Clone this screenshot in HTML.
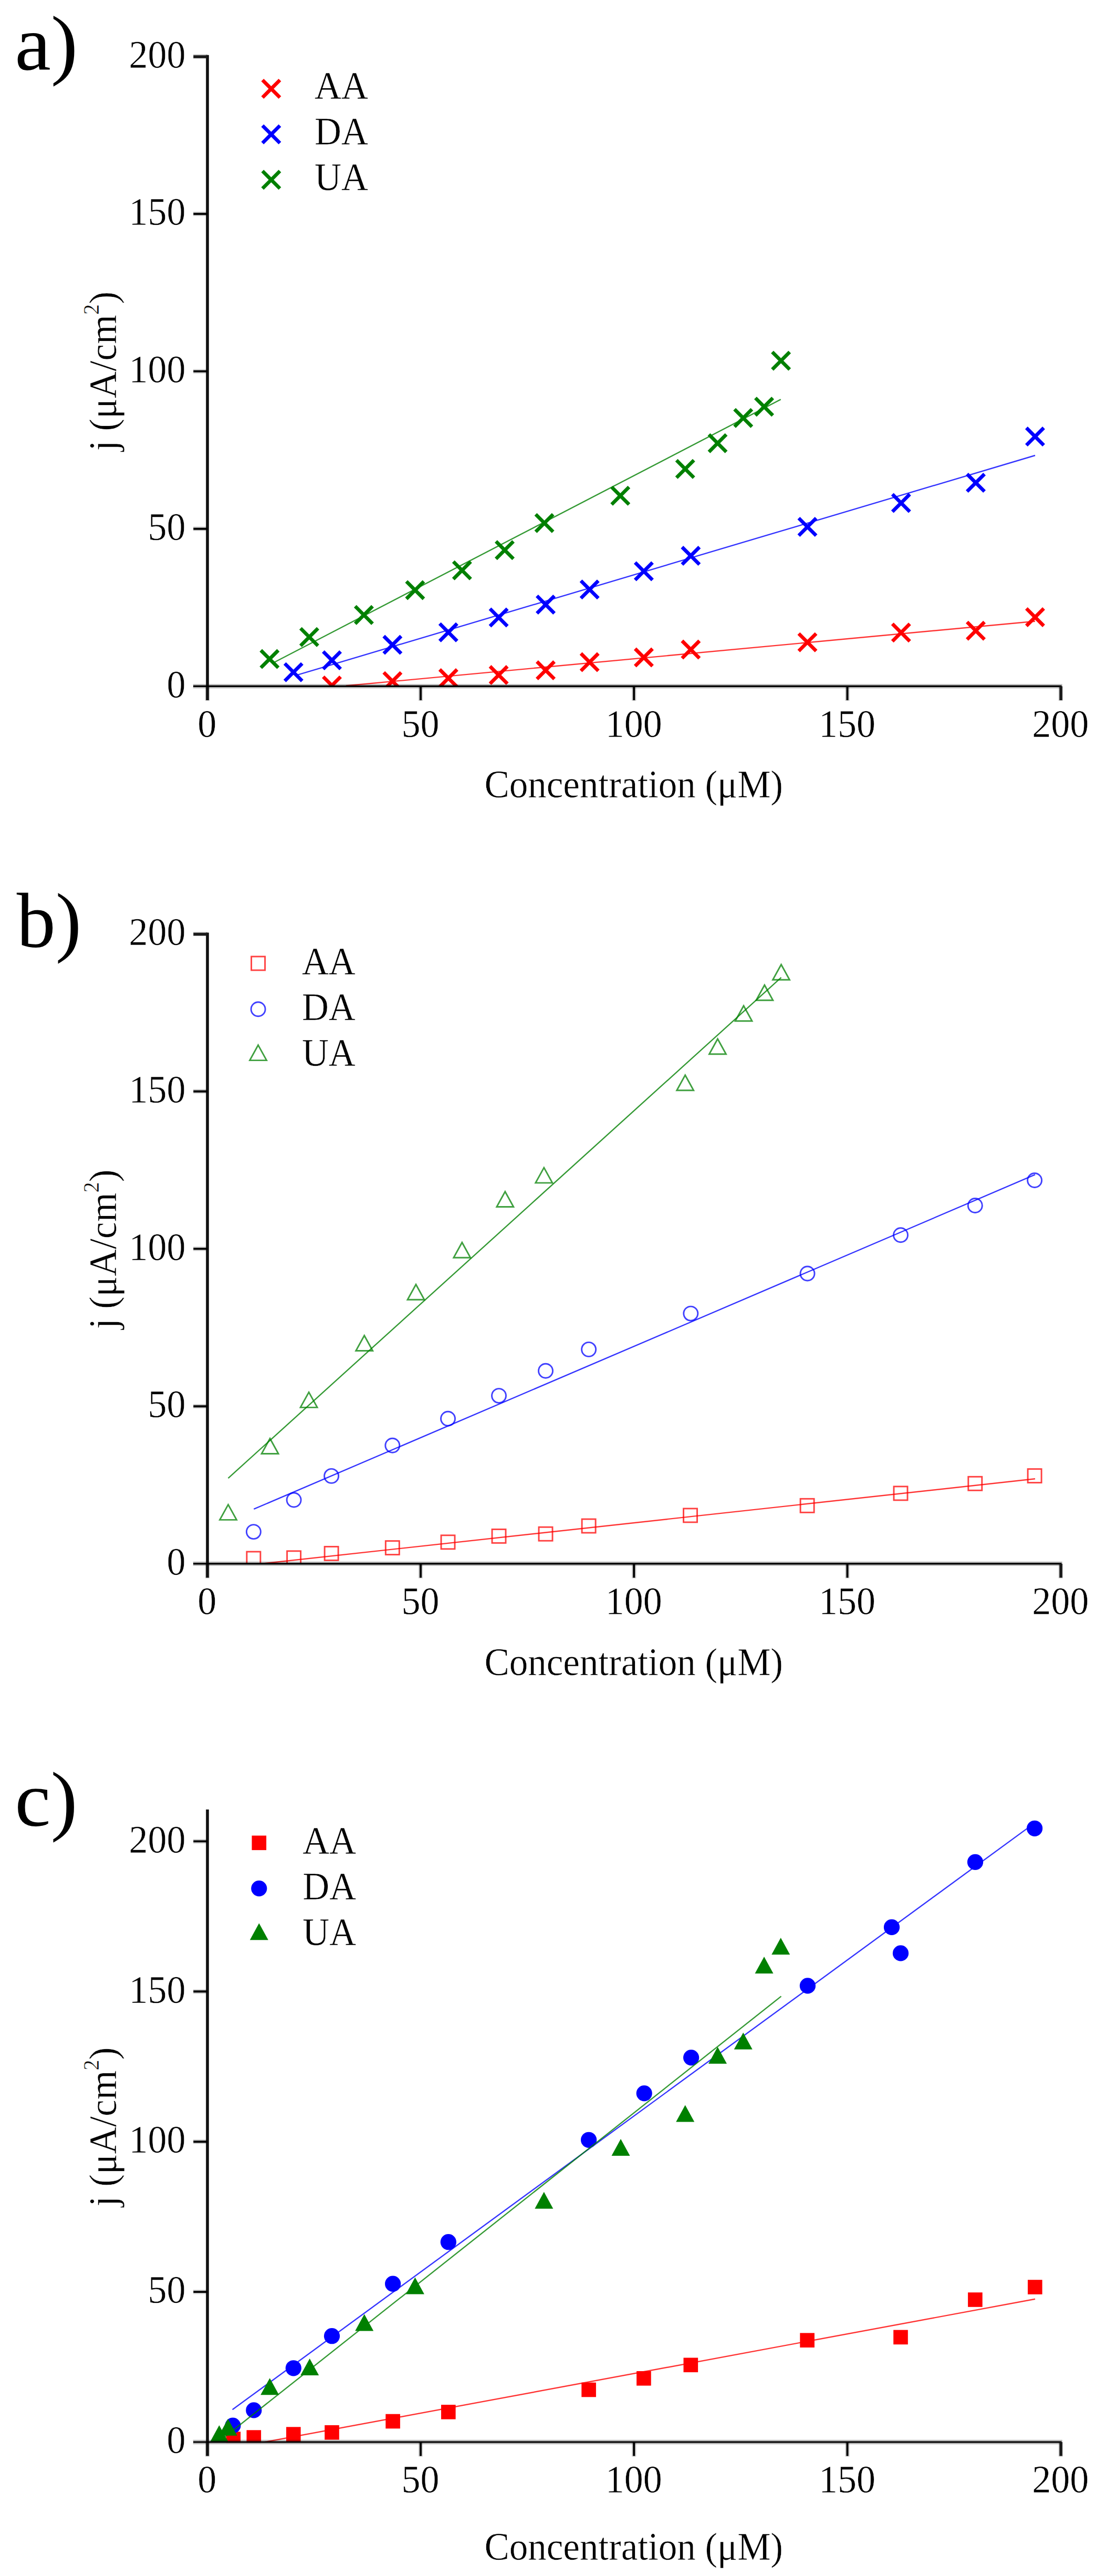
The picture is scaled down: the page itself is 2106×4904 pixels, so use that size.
<!DOCTYPE html>
<html lang="en"><head><meta charset="utf-8"><title>Calibration plots</title>
<style>html,body{margin:0;padding:0;background:#fff}svg{display:block}</style></head>
<body>
<svg width="2106" height="4904" viewBox="0 0 2106 4904" font-family="'Liberation Serif', serif" font-size="74" fill="#000">
<style>text{stroke:#fff;stroke-width:0.5px}</style>
<rect width="2106" height="4904" fill="#fff"/>
<clipPath id="clipa"><rect x="0" y="47.5" width="2106" height="1260.1"/></clipPath>
<g clip-path="url(#clipa)">
<path d="M615.4 1288.3L648.6 1321.5M615.4 1321.5L648.6 1288.3" stroke="#ff0000" stroke-width="6.8" fill="none"/>
<path d="M730.7 1280.2L763.9 1313.4M730.7 1313.4L763.9 1280.2" stroke="#ff0000" stroke-width="6.8" fill="none"/>
<path d="M837.2 1274.5L870.4 1307.7M837.2 1307.7L870.4 1274.5" stroke="#ff0000" stroke-width="6.8" fill="none"/>
<path d="M933.0 1268.5L966.2 1301.7M933.0 1301.7L966.2 1268.5" stroke="#ff0000" stroke-width="6.8" fill="none"/>
<path d="M1022.4 1259.5L1055.6 1292.7M1022.4 1292.7L1055.6 1259.5" stroke="#ff0000" stroke-width="6.8" fill="none"/>
<path d="M1106.1 1244.0L1139.3 1277.2M1106.1 1277.2L1139.3 1244.0" stroke="#ff0000" stroke-width="6.8" fill="none"/>
<path d="M1209.3 1235.0L1242.5 1268.2M1209.3 1268.2L1242.5 1235.0" stroke="#ff0000" stroke-width="6.8" fill="none"/>
<path d="M1298.7 1220.0L1331.9 1253.2M1298.7 1253.2L1331.9 1220.0" stroke="#ff0000" stroke-width="6.8" fill="none"/>
<path d="M1520.9 1206.2L1554.1 1239.4M1520.9 1239.4L1554.1 1206.2" stroke="#ff0000" stroke-width="6.8" fill="none"/>
<path d="M1699.2 1187.7L1732.4 1220.9M1699.2 1220.9L1732.4 1187.7" stroke="#ff0000" stroke-width="6.8" fill="none"/>
<path d="M1841.4 1184.1L1874.6 1217.3M1841.4 1217.3L1874.6 1184.1" stroke="#ff0000" stroke-width="6.8" fill="none"/>
<path d="M1954.4 1158.3L1987.5 1191.5M1954.4 1191.5L1987.5 1158.3" stroke="#ff0000" stroke-width="6.8" fill="none"/>
<line x1="658.8" y1="1305.5" x2="1971.0" y2="1182.7" stroke="#ff0000" stroke-opacity="0.8" stroke-width="2.4"/>
<path d="M542.2 1263.1L575.4 1296.3M542.2 1296.3L575.4 1263.1" stroke="#0000ff" stroke-width="6.8" fill="none"/>
<path d="M615.4 1240.4L648.6 1273.6M615.4 1273.6L648.6 1240.4" stroke="#0000ff" stroke-width="6.8" fill="none"/>
<path d="M730.7 1211.0L763.9 1244.2M730.7 1244.2L763.9 1211.0" stroke="#0000ff" stroke-width="6.8" fill="none"/>
<path d="M837.2 1187.1L870.4 1220.3M837.2 1220.3L870.4 1187.1" stroke="#0000ff" stroke-width="6.8" fill="none"/>
<path d="M933.0 1158.9L966.2 1192.1M933.0 1192.1L966.2 1158.9" stroke="#0000ff" stroke-width="6.8" fill="none"/>
<path d="M1022.4 1134.4L1055.6 1167.6M1022.4 1167.6L1055.6 1134.4" stroke="#0000ff" stroke-width="6.8" fill="none"/>
<path d="M1106.1 1105.6L1139.3 1138.8M1106.1 1138.8L1139.3 1105.6" stroke="#0000ff" stroke-width="6.8" fill="none"/>
<path d="M1209.3 1070.9L1242.5 1104.1M1209.3 1104.1L1242.5 1070.9" stroke="#0000ff" stroke-width="6.8" fill="none"/>
<path d="M1298.7 1041.5L1331.9 1074.7M1298.7 1074.7L1331.9 1041.5" stroke="#0000ff" stroke-width="6.8" fill="none"/>
<path d="M1520.9 986.4L1554.1 1019.6M1520.9 1019.6L1554.1 986.4" stroke="#0000ff" stroke-width="6.8" fill="none"/>
<path d="M1699.2 940.9L1732.4 974.1M1699.2 974.1L1732.4 940.9" stroke="#0000ff" stroke-width="6.8" fill="none"/>
<path d="M1841.4 902.5L1874.6 935.7M1841.4 935.7L1874.6 902.5" stroke="#0000ff" stroke-width="6.8" fill="none"/>
<path d="M1954.4 814.5L1987.5 847.7M1954.4 847.7L1987.5 814.5" stroke="#0000ff" stroke-width="6.8" fill="none"/>
<line x1="563.7" y1="1285.7" x2="1971.0" y2="867.0" stroke="#0000ff" stroke-opacity="0.8" stroke-width="2.4"/>
<path d="M496.7 1238.0L529.9 1271.2M496.7 1271.2L529.9 1238.0" stroke="#008000" stroke-width="6.8" fill="none"/>
<path d="M572.3 1196.1L605.5 1229.3M572.3 1229.3L605.5 1196.1" stroke="#008000" stroke-width="6.8" fill="none"/>
<path d="M676.3 1154.1L709.5 1187.3M676.3 1187.3L709.5 1154.1" stroke="#008000" stroke-width="6.8" fill="none"/>
<path d="M773.8 1106.8L807.0 1140.0M773.8 1140.0L807.0 1106.8" stroke="#008000" stroke-width="6.8" fill="none"/>
<path d="M863.2 1069.1L896.4 1102.3M863.2 1102.3L896.4 1069.1" stroke="#008000" stroke-width="6.8" fill="none"/>
<path d="M944.4 1030.7L977.6 1063.9M944.4 1063.9L977.6 1030.7" stroke="#008000" stroke-width="6.8" fill="none"/>
<path d="M1020.0 979.2L1053.2 1012.4M1020.0 1012.4L1053.2 979.2" stroke="#008000" stroke-width="6.8" fill="none"/>
<path d="M1164.6 927.1L1197.8 960.3M1164.6 960.3L1197.8 927.1" stroke="#008000" stroke-width="6.8" fill="none"/>
<path d="M1288.1 876.2L1321.3 909.4M1288.1 909.4L1321.3 876.2" stroke="#008000" stroke-width="6.8" fill="none"/>
<path d="M1349.9 827.1L1383.0 860.3M1349.9 860.3L1383.0 827.1" stroke="#008000" stroke-width="6.8" fill="none"/>
<path d="M1398.6 779.2L1431.8 812.4M1398.6 812.4L1431.8 779.2" stroke="#008000" stroke-width="6.8" fill="none"/>
<path d="M1438.4 757.6L1471.6 790.8M1438.4 790.8L1471.6 757.6" stroke="#008000" stroke-width="6.8" fill="none"/>
<path d="M1470.5 670.1L1503.7 703.3M1470.5 703.3L1503.7 670.1" stroke="#008000" stroke-width="6.8" fill="none"/>
<line x1="521.5" y1="1261.2" x2="1486.7" y2="760.4" stroke="#008000" stroke-opacity="0.8" stroke-width="2.4"/>
</g>
<g fill="none" stroke="#000">
<path d="M367.7 1306.4H2022.7" stroke-width="8.4" stroke-opacity="0.26"/>
<path d="M801.0 1306.4v27.5M395.0 1006.7h-27M1207.2 1306.4v27.5M395.0 706.9h-27M1613.5 1306.4v27.5M395.0 407.2h-27M2019.7 1306.4v27.5M395.0 107.4h-27M395.0 1306.4v27.5" stroke-width="8.2" stroke-opacity="0.2"/>
<path d="M395.0 104.8V1332.9" stroke-width="5.6" stroke="#111"/>
<path d="M368.0 1306.4H2021.4" stroke-width="3.2"/>
<path d="M801.0 1306.4v26.5M395.0 1006.7h-26.7M1207.2 1306.4v26.5M395.0 706.9h-26.7M1613.5 1306.4v26.5M395.0 407.2h-26.7" stroke-width="3.9"/>
<path d="M2020.1 1306.4v26.5M395.0 108.0h-26.7" stroke-width="5.5" stroke="#1a1a1a"/>
</g>
<text x="394.2" y="1402.6" text-anchor="middle" textLength="36" lengthAdjust="spacingAndGlyphs">0</text>
<text x="353.5" y="1327.6" text-anchor="end" textLength="36" lengthAdjust="spacingAndGlyphs">0</text>
<text x="800.5" y="1402.6" text-anchor="middle" textLength="72" lengthAdjust="spacingAndGlyphs">50</text>
<text x="353.5" y="1027.9" text-anchor="end" textLength="72" lengthAdjust="spacingAndGlyphs">50</text>
<text x="1206.7" y="1402.6" text-anchor="middle" textLength="108" lengthAdjust="spacingAndGlyphs">100</text>
<text x="353.5" y="728.1" text-anchor="end" textLength="108" lengthAdjust="spacingAndGlyphs">100</text>
<text x="1613.0" y="1402.6" text-anchor="middle" textLength="108" lengthAdjust="spacingAndGlyphs">150</text>
<text x="353.5" y="428.4" text-anchor="end" textLength="108" lengthAdjust="spacingAndGlyphs">150</text>
<text x="2019.2" y="1402.6" text-anchor="middle" textLength="108" lengthAdjust="spacingAndGlyphs">200</text>
<text x="353.5" y="128.6" text-anchor="end" textLength="108" lengthAdjust="spacingAndGlyphs">200</text>
<text x="1206.7" y="1518.0" text-anchor="middle" textLength="568.5" lengthAdjust="spacingAndGlyphs">Concentration (μM)</text>
<text transform="translate(221 858.5) rotate(-90)" textLength="303.5" lengthAdjust="spacingAndGlyphs">j (μA/cm<tspan font-size="42" dy="-33">2</tspan><tspan dy="33">)</tspan></text>
<text x="28.2" y="133.0" font-size="148" style="stroke:none" textLength="120" lengthAdjust="spacingAndGlyphs">a)</text>
<path d="M499.8 152.4L533.0 185.6M499.8 185.6L533.0 152.4" stroke="#ff0000" stroke-width="6.8" fill="none"/>
<text x="599.0" y="188.3" font-size="73" textLength="101.8" lengthAdjust="spacingAndGlyphs">AA</text>
<path d="M499.8 239.1L533.0 272.3M499.8 272.3L533.0 239.1" stroke="#0000ff" stroke-width="6.8" fill="none"/>
<text x="599.0" y="275.0" font-size="73" textLength="101.8" lengthAdjust="spacingAndGlyphs">DA</text>
<path d="M499.8 325.7L533.0 358.9M499.8 358.9L533.0 325.7" stroke="#008000" stroke-width="6.8" fill="none"/>
<text x="599.0" y="361.6" font-size="73" textLength="101.8" lengthAdjust="spacingAndGlyphs">UA</text>
<clipPath id="clipb"><rect x="0" y="1718.2" width="2106" height="1259.9"/></clipPath>
<g clip-path="url(#clipb)">
<rect x="469.9" y="2954.0" width="26" height="26" stroke="#ff0000" stroke-opacity="0.75" stroke-width="2.9" fill="none"/>
<rect x="546.6" y="2952.8" width="26" height="26" stroke="#ff0000" stroke-opacity="0.75" stroke-width="2.9" fill="none"/>
<rect x="618.1" y="2944.4" width="26" height="26" stroke="#ff0000" stroke-opacity="0.75" stroke-width="2.9" fill="none"/>
<rect x="734.3" y="2933.6" width="26" height="26" stroke="#ff0000" stroke-opacity="0.75" stroke-width="2.9" fill="none"/>
<rect x="840.0" y="2922.8" width="26" height="26" stroke="#ff0000" stroke-opacity="0.75" stroke-width="2.9" fill="none"/>
<rect x="937.0" y="2911.4" width="26" height="26" stroke="#ff0000" stroke-opacity="0.75" stroke-width="2.9" fill="none"/>
<rect x="1026.0" y="2907.2" width="26" height="26" stroke="#ff0000" stroke-opacity="0.75" stroke-width="2.9" fill="none"/>
<rect x="1108.1" y="2892.0" width="26" height="26" stroke="#ff0000" stroke-opacity="0.75" stroke-width="2.9" fill="none"/>
<rect x="1301.5" y="2871.9" width="26" height="26" stroke="#ff0000" stroke-opacity="0.75" stroke-width="2.9" fill="none"/>
<rect x="1524.1" y="2853.3" width="26" height="26" stroke="#ff0000" stroke-opacity="0.75" stroke-width="2.9" fill="none"/>
<rect x="1702.0" y="2829.9" width="26" height="26" stroke="#ff0000" stroke-opacity="0.75" stroke-width="2.9" fill="none"/>
<rect x="1843.8" y="2811.3" width="26" height="26" stroke="#ff0000" stroke-opacity="0.75" stroke-width="2.9" fill="none"/>
<rect x="1957.1" y="2796.6" width="26" height="26" stroke="#ff0000" stroke-opacity="0.75" stroke-width="2.9" fill="none"/>
<line x1="483.3" y1="2978.4" x2="1971.0" y2="2815.3" stroke="#ff0000" stroke-opacity="0.8" stroke-width="2.4"/>
<circle cx="482.9" cy="2916.1" r="13.5" stroke="#0000ff" stroke-opacity="0.75" stroke-width="2.9" fill="none"/>
<circle cx="559.6" cy="2855.5" r="13.5" stroke="#0000ff" stroke-opacity="0.75" stroke-width="2.9" fill="none"/>
<circle cx="631.1" cy="2809.9" r="13.5" stroke="#0000ff" stroke-opacity="0.75" stroke-width="2.9" fill="none"/>
<circle cx="747.3" cy="2751.8" r="13.5" stroke="#0000ff" stroke-opacity="0.75" stroke-width="2.9" fill="none"/>
<circle cx="853.0" cy="2700.8" r="13.5" stroke="#0000ff" stroke-opacity="0.75" stroke-width="2.9" fill="none"/>
<circle cx="950.0" cy="2657.1" r="13.5" stroke="#0000ff" stroke-opacity="0.75" stroke-width="2.9" fill="none"/>
<circle cx="1039.0" cy="2609.7" r="13.5" stroke="#0000ff" stroke-opacity="0.75" stroke-width="2.9" fill="none"/>
<circle cx="1121.1" cy="2568.9" r="13.5" stroke="#0000ff" stroke-opacity="0.75" stroke-width="2.9" fill="none"/>
<circle cx="1315.3" cy="2500.6" r="13.5" stroke="#0000ff" stroke-opacity="0.75" stroke-width="2.9" fill="none"/>
<circle cx="1537.5" cy="2424.5" r="13.5" stroke="#0000ff" stroke-opacity="0.75" stroke-width="2.9" fill="none"/>
<circle cx="1715.0" cy="2351.3" r="13.5" stroke="#0000ff" stroke-opacity="0.75" stroke-width="2.9" fill="none"/>
<circle cx="1856.8" cy="2295.0" r="13.5" stroke="#0000ff" stroke-opacity="0.75" stroke-width="2.9" fill="none"/>
<circle cx="1970.1" cy="2247.0" r="13.5" stroke="#0000ff" stroke-opacity="0.75" stroke-width="2.9" fill="none"/>
<line x1="483.3" y1="2872.9" x2="1971.0" y2="2236.2" stroke="#0000ff" stroke-opacity="0.8" stroke-width="2.4"/>
<path d="M434.5 2864.4L450.5 2893.4L418.5 2893.4Z" stroke="#008000" stroke-opacity="0.75" stroke-width="2.9" fill="none"/>
<path d="M514.1 2738.5L530.1 2767.5L498.1 2767.5Z" stroke="#008000" stroke-opacity="0.75" stroke-width="2.9" fill="none"/>
<path d="M588.1 2650.4L604.1 2679.4L572.1 2679.4Z" stroke="#008000" stroke-opacity="0.75" stroke-width="2.9" fill="none"/>
<path d="M693.7 2542.5L709.7 2571.5L677.7 2571.5Z" stroke="#008000" stroke-opacity="0.75" stroke-width="2.9" fill="none"/>
<path d="M792.0 2445.3L808.0 2474.3L776.0 2474.3Z" stroke="#008000" stroke-opacity="0.75" stroke-width="2.9" fill="none"/>
<path d="M879.8 2365.3L895.8 2394.3L863.8 2394.3Z" stroke="#008000" stroke-opacity="0.75" stroke-width="2.9" fill="none"/>
<path d="M961.8 2268.5L977.8 2297.5L945.8 2297.5Z" stroke="#008000" stroke-opacity="0.75" stroke-width="2.9" fill="none"/>
<path d="M1035.8 2222.9L1051.8 2251.9L1019.8 2251.9Z" stroke="#008000" stroke-opacity="0.75" stroke-width="2.9" fill="none"/>
<path d="M1304.7 2046.7L1320.7 2075.7L1288.7 2075.7Z" stroke="#008000" stroke-opacity="0.75" stroke-width="2.9" fill="none"/>
<path d="M1366.5 1977.7L1382.5 2006.7L1350.5 2006.7Z" stroke="#008000" stroke-opacity="0.75" stroke-width="2.9" fill="none"/>
<path d="M1416.0 1914.8L1432.0 1943.8L1400.0 1943.8Z" stroke="#008000" stroke-opacity="0.75" stroke-width="2.9" fill="none"/>
<path d="M1455.8 1875.2L1471.8 1904.2L1439.8 1904.2Z" stroke="#008000" stroke-opacity="0.75" stroke-width="2.9" fill="none"/>
<path d="M1487.5 1836.2L1503.5 1865.2L1471.5 1865.2Z" stroke="#008000" stroke-opacity="0.75" stroke-width="2.9" fill="none"/>
<line x1="434.5" y1="2814.1" x2="1487.5" y2="1860.9" stroke="#008000" stroke-opacity="0.8" stroke-width="2.4"/>
</g>
<g fill="none" stroke="#000">
<path d="M367.7 2976.9H2022.7" stroke-width="8.4" stroke-opacity="0.26"/>
<path d="M801.0 2976.9v27.5M395.0 2677.2h-27M1207.2 2976.9v27.5M395.0 2377.4h-27M1613.5 2976.9v27.5M395.0 2077.7h-27M2019.7 2976.9v27.5M395.0 1778.0h-27M395.0 2976.9v27.5" stroke-width="8.2" stroke-opacity="0.2"/>
<path d="M395.0 1775.4V3003.4" stroke-width="5.6" stroke="#111"/>
<path d="M368.0 2976.9H2021.4" stroke-width="3.2"/>
<path d="M801.0 2976.9v26.5M395.0 2677.2h-26.7M1207.2 2976.9v26.5M395.0 2377.4h-26.7M1613.5 2976.9v26.5M395.0 2077.7h-26.7" stroke-width="3.9"/>
<path d="M2020.1 2976.9v26.5M395.0 1778.6h-26.7" stroke-width="5.5" stroke="#1a1a1a"/>
</g>
<text x="394.2" y="3073.1" text-anchor="middle" textLength="36" lengthAdjust="spacingAndGlyphs">0</text>
<text x="353.5" y="2998.1" text-anchor="end" textLength="36" lengthAdjust="spacingAndGlyphs">0</text>
<text x="800.5" y="3073.1" text-anchor="middle" textLength="72" lengthAdjust="spacingAndGlyphs">50</text>
<text x="353.5" y="2698.4" text-anchor="end" textLength="72" lengthAdjust="spacingAndGlyphs">50</text>
<text x="1206.7" y="3073.1" text-anchor="middle" textLength="108" lengthAdjust="spacingAndGlyphs">100</text>
<text x="353.5" y="2398.6" text-anchor="end" textLength="108" lengthAdjust="spacingAndGlyphs">100</text>
<text x="1613.0" y="3073.1" text-anchor="middle" textLength="108" lengthAdjust="spacingAndGlyphs">150</text>
<text x="353.5" y="2098.9" text-anchor="end" textLength="108" lengthAdjust="spacingAndGlyphs">150</text>
<text x="2019.2" y="3073.1" text-anchor="middle" textLength="108" lengthAdjust="spacingAndGlyphs">200</text>
<text x="353.5" y="1799.2" text-anchor="end" textLength="108" lengthAdjust="spacingAndGlyphs">200</text>
<text x="1206.7" y="3188.5" text-anchor="middle" textLength="568.5" lengthAdjust="spacingAndGlyphs">Concentration (μM)</text>
<text transform="translate(221 2529.9) rotate(-90)" textLength="303.5" lengthAdjust="spacingAndGlyphs">j (μA/cm<tspan font-size="42" dy="-33">2</tspan><tspan dy="33">)</tspan></text>
<text x="31.7" y="1803.4" font-size="148" style="stroke:none" textLength="123.3" lengthAdjust="spacingAndGlyphs">b)</text>
<rect x="478.6" y="1821.0" width="26" height="26" stroke="#ff0000" stroke-opacity="0.75" stroke-width="2.9" fill="none"/>
<text x="574.9" y="1854.8" font-size="73" textLength="101.8" lengthAdjust="spacingAndGlyphs">AA</text>
<circle cx="491.6" cy="1921.2" r="13.5" stroke="#0000ff" stroke-opacity="0.75" stroke-width="2.9" fill="none"/>
<text x="574.9" y="1942.0" font-size="73" textLength="101.8" lengthAdjust="spacingAndGlyphs">DA</text>
<path d="M491.6 1989.6L507.6 2018.6L475.6 2018.6Z" stroke="#008000" stroke-opacity="0.75" stroke-width="2.9" fill="none"/>
<text x="574.9" y="2028.6" font-size="73" textLength="101.8" lengthAdjust="spacingAndGlyphs">UA</text>
<clipPath id="clipc"><rect x="0" y="3388.2" width="2106" height="1262.0"/></clipPath>
<g clip-path="url(#clipc)">
<rect x="430.5" y="4629.3" width="27.6" height="27.6" fill="#ff0000"/>
<rect x="469.5" y="4626.3" width="27.6" height="27.6" fill="#ff0000"/>
<rect x="545.0" y="4620.3" width="27.6" height="27.6" fill="#ff0000"/>
<rect x="618.2" y="4616.9" width="27.6" height="27.6" fill="#ff0000"/>
<rect x="734.3" y="4595.7" width="27.6" height="27.6" fill="#ff0000"/>
<rect x="840.0" y="4578.0" width="27.6" height="27.6" fill="#ff0000"/>
<rect x="1107.3" y="4535.7" width="27.6" height="27.6" fill="#ff0000"/>
<rect x="1212.1" y="4514.0" width="27.6" height="27.6" fill="#ff0000"/>
<rect x="1301.5" y="4488.5" width="27.6" height="27.6" fill="#ff0000"/>
<rect x="1523.3" y="4441.4" width="27.6" height="27.6" fill="#ff0000"/>
<rect x="1701.2" y="4435.6" width="27.6" height="27.6" fill="#ff0000"/>
<rect x="1843.1" y="4364.2" width="27.6" height="27.6" fill="#ff0000"/>
<rect x="1957.0" y="4340.2" width="27.6" height="27.6" fill="#ff0000"/>
<line x1="504.4" y1="4649.0" x2="1971.0" y2="4376.8" stroke="#ff0000" stroke-opacity="0.8" stroke-width="2.4"/>
<circle cx="443.4" cy="4617.6" r="15.1" fill="#0000ff"/>
<circle cx="483.3" cy="4588.4" r="15.1" fill="#0000ff"/>
<circle cx="558.8" cy="4508.3" r="15.1" fill="#0000ff"/>
<circle cx="632.0" cy="4447.2" r="15.1" fill="#0000ff"/>
<circle cx="748.1" cy="4347.7" r="15.1" fill="#0000ff"/>
<circle cx="853.8" cy="4268.2" r="15.1" fill="#0000ff"/>
<circle cx="1121.1" cy="4073.8" r="15.1" fill="#0000ff"/>
<circle cx="1226.7" cy="3985.1" r="15.1" fill="#0000ff"/>
<circle cx="1316.1" cy="3917.1" r="15.1" fill="#0000ff"/>
<circle cx="1537.9" cy="3780.4" r="15.1" fill="#0000ff"/>
<circle cx="1698.0" cy="3668.9" r="15.1" fill="#0000ff"/>
<circle cx="1715.0" cy="3718.4" r="15.1" fill="#0000ff"/>
<circle cx="1857.0" cy="3544.9" r="15.1" fill="#0000ff"/>
<circle cx="1970.1" cy="3480.8" r="15.1" fill="#0000ff"/>
<line x1="442.6" y1="4587.2" x2="1971.0" y2="3469.9" stroke="#0000ff" stroke-opacity="0.8" stroke-width="2.4"/>
<path d="M417.4 4617.0L434.9 4649.0L399.9 4649.0Z" fill="#008000"/>
<path d="M434.1 4604.7L451.6 4636.7L416.6 4636.7Z" fill="#008000"/>
<path d="M513.7 4527.2L531.2 4559.2L496.2 4559.2Z" fill="#008000"/>
<path d="M589.7 4490.1L607.2 4522.1L572.2 4522.1Z" fill="#008000"/>
<path d="M693.7 4405.4L711.2 4437.4L676.2 4437.4Z" fill="#008000"/>
<path d="M790.4 4335.4L807.9 4367.4L772.9 4367.4Z" fill="#008000"/>
<path d="M1035.8 4172.7L1053.3 4204.7L1018.3 4204.7Z" fill="#008000"/>
<path d="M1182.0 4072.1L1199.5 4104.1L1164.5 4104.1Z" fill="#008000"/>
<path d="M1304.7 4007.5L1322.2 4039.5L1287.2 4039.5Z" fill="#008000"/>
<path d="M1366.5 3896.8L1384.0 3928.8L1349.0 3928.8Z" fill="#008000"/>
<path d="M1415.2 3869.6L1432.7 3901.6L1397.7 3901.6Z" fill="#008000"/>
<path d="M1455.0 3725.0L1472.5 3757.0L1437.5 3757.0Z" fill="#008000"/>
<path d="M1486.7 3689.0L1504.2 3721.0L1469.2 3721.0Z" fill="#008000"/>
<line x1="419.1" y1="4646.1" x2="1487.5" y2="3800.4" stroke="#008000" stroke-opacity="0.8" stroke-width="2.4"/>
</g>
<g fill="none" stroke="#000">
<path d="M367.7 4649.0H2022.7" stroke-width="8.4" stroke-opacity="0.26"/>
<path d="M801.0 4649.0v27.5M395.0 4363.1h-27M1207.2 4649.0v27.5M395.0 4077.2h-27M1613.5 4649.0v27.5M395.0 3791.3h-27M2019.7 4649.0v27.5M395.0 3505.4h-27M395.0 4649.0v27.5" stroke-width="8.2" stroke-opacity="0.2"/>
<path d="M395.0 3444.8V4675.5" stroke-width="5.6" stroke="#111"/>
<path d="M368.0 4649.0H2021.4" stroke-width="3.2"/>
<path d="M801.0 4649.0v26.5M395.0 4363.1h-26.7M1207.2 4649.0v26.5M395.0 4077.2h-26.7M1613.5 4649.0v26.5M395.0 3791.3h-26.7M395.0 3505.4h-26.7" stroke-width="3.9"/>
<path d="M2020.1 4649.0v26.5" stroke-width="5.5" stroke="#1a1a1a"/>
</g>
<text x="394.2" y="4745.2" text-anchor="middle" textLength="36" lengthAdjust="spacingAndGlyphs">0</text>
<text x="353.5" y="4670.2" text-anchor="end" textLength="36" lengthAdjust="spacingAndGlyphs">0</text>
<text x="800.5" y="4745.2" text-anchor="middle" textLength="72" lengthAdjust="spacingAndGlyphs">50</text>
<text x="353.5" y="4384.3" text-anchor="end" textLength="72" lengthAdjust="spacingAndGlyphs">50</text>
<text x="1206.7" y="4745.2" text-anchor="middle" textLength="108" lengthAdjust="spacingAndGlyphs">100</text>
<text x="353.5" y="4098.4" text-anchor="end" textLength="108" lengthAdjust="spacingAndGlyphs">100</text>
<text x="1613.0" y="4745.2" text-anchor="middle" textLength="108" lengthAdjust="spacingAndGlyphs">150</text>
<text x="353.5" y="3812.5" text-anchor="end" textLength="108" lengthAdjust="spacingAndGlyphs">150</text>
<text x="2019.2" y="4745.2" text-anchor="middle" textLength="108" lengthAdjust="spacingAndGlyphs">200</text>
<text x="353.5" y="3526.6" text-anchor="end" textLength="108" lengthAdjust="spacingAndGlyphs">200</text>
<text x="1206.7" y="4872.5" text-anchor="middle" textLength="568.5" lengthAdjust="spacingAndGlyphs">Concentration (μM)</text>
<text transform="translate(221 4200.8) rotate(-90)" textLength="303.5" lengthAdjust="spacingAndGlyphs">j (μA/cm<tspan font-size="42" dy="-33">2</tspan><tspan dy="33">)</tspan></text>
<text x="28.3" y="3475.5" font-size="148" style="stroke:none" textLength="119.4" lengthAdjust="spacingAndGlyphs">c)</text>
<rect x="479.5" y="3494.5" width="27.6" height="27.6" fill="#ff0000"/>
<text x="576.3" y="3529.1" font-size="73" textLength="101.8" lengthAdjust="spacingAndGlyphs">AA</text>
<circle cx="493.3" cy="3595.1" r="15.1" fill="#0000ff"/>
<text x="576.3" y="3615.9" font-size="73" textLength="101.8" lengthAdjust="spacingAndGlyphs">DA</text>
<path d="M493.3 3661.2L510.8 3693.2L475.8 3693.2Z" fill="#008000"/>
<text x="576.3" y="3702.7" font-size="73" textLength="101.8" lengthAdjust="spacingAndGlyphs">UA</text>
</svg>
</body></html>
